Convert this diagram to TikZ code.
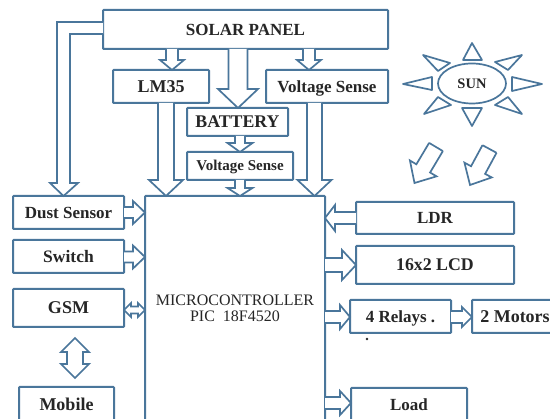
\documentclass[tikz,border=0pt]{standalone}
\usepackage{fontspec}
\setmainfont{Liberation Serif}
\usetikzlibrary{calc,shapes.geometric}
\definecolor{edgeblue}{HTML}{4A769B}
\definecolor{inkgrey}{HTML}{262626}
\tikzset{
  blk/.style={draw=edgeblue,line width=2pt,fill=white,rounded corners=0.8pt,inner sep=0pt,outer sep=0pt,text=inkgrey,font=\bfseries\fontsize{#1}{#1}\selectfont,align=center},
  arr/.style={draw=edgeblue,line width=1.7pt,fill=white,line join=miter},
  ray/.style={draw=edgeblue,line width=1.7pt,fill=white,line join=round}
}
% name, x1, y1, x2, y2, font size, text
\newcommand\boxat[7]{\node[blk=#6,minimum width=#4pt-#2pt,minimum height=#5pt-#3pt] (#1) at ({(#2+#4)/2},{(#3+#5)/2}) {\raisebox{-1pt}{\vphantom{H}\smash{#7}}};}
% from, to, shaft half, head half, head length
\newcommand\blockarrow[5]{%
  \coordinate (A) at (#1); \coordinate (B) at (#2);
  \coordinate (H) at ($(B)!#5pt!(A)$);
  \draw[arr] ($(A)!#3pt!90:(B)$) -- ($(H)!#3pt!-90:(A)$) -- ($(H)!#4pt!-90:(A)$) -- (B)
    -- ($(H)!#4pt!90:(A)$) -- ($(H)!#3pt!90:(A)$) -- ($(A)!#3pt!-90:(B)$);
}
\newcommand\dblarrow[5]{%
  \coordinate (A) at (#1); \coordinate (B) at (#2);
  \coordinate (H) at ($(B)!#5pt!(A)$); \coordinate (G) at ($(A)!#5pt!(B)$);
  \draw[arr] (A) -- ($(G)!#4pt!90:(B)$) -- ($(G)!#3pt!90:(B)$) -- ($(H)!#3pt!-90:(A)$) -- ($(H)!#4pt!-90:(A)$) -- (B)
    -- ($(H)!#4pt!90:(A)$) -- ($(H)!#3pt!90:(A)$) -- ($(G)!#3pt!-90:(B)$) -- ($(G)!#4pt!-90:(B)$) -- cycle;
}
\begin{document}
\begin{tikzpicture}[x=1pt,y=-1pt]
\useasboundingbox (0,0) rectangle (550,419);
\clip (0,0) rectangle (550,419);
\fill[white] (0,0) rectangle (550,419);
% boxes
\boxat{solar}{103}{10}{388}{49}{17}{SOLAR PANEL}
\boxat{lm}{113}{70}{209}{103}{18}{LM35}
\boxat{vst}{266}{70}{388}{103}{17}{Voltage Sense}
\boxat{bat}{187}{108}{288}{136}{17.8}{BATTERY}
\boxat{vss}{187}{152}{293}{180}{15}{Voltage Sense}
\boxat{mc}{145}{196}{325}{440}{11}{}
\boxat{dust}{13}{196}{124}{229}{17}{Dust Sensor}
\boxat{sw}{13}{240}{124}{273}{17.5}{Switch}
\boxat{gsm}{13}{289}{124}{327}{18}{GSM}
\boxat{mob}{19}{387}{114}{423}{18}{Mobile}
\boxat{ldr}{356}{202}{514}{234}{17}{LDR}
\boxat{lcd}{356}{246}{514}{284}{17.8}{16x2 LCD}
\boxat{rel}{350}{300}{451}{333}{17}{4 Relays .}
\boxat{mot}{472}{300}{562}{333}{18}{\makebox[0pt]{\hspace{-4pt}2 Motors}}
\boxat{load}{351}{388}{467}{422}{17}{Load}
\node[text=inkgrey,font=\fontsize{16}{16}\selectfont,align=center,inner sep=0pt] (mctext) at (235,308) {MICROCONTROLLER\\PIC\ \ 18F4520};
% top arrows
\blockarrow{172,0 |- solar.south}{172,0 |- lm.north}{6}{12}{10}
\blockarrow{238,0 |- solar.south}{238,0 |- bat.north}{9.5}{20}{19}
\blockarrow{309,0 |- solar.south}{309,0 |- vst.north}{6}{12}{10}
\blockarrow{166,0 |- lm.south}{166,0 |- mc.north}{8}{17}{16}
\blockarrow{240,0 |- bat.south}{240,0 |- vss.north}{5}{12.5}{9}
\blockarrow{240,0 |- vss.south}{240,0 |- mc.north}{5}{12.5}{8}
\blockarrow{314.5,0 |- vst.south}{314.5,0 |- mc.north}{7.5}{17}{16}
% solar to dust sensor
\coordinate (sa) at (solar.west |- 0,22);
\coordinate (sb) at (solar.west |- 0,34);
\coordinate (dt) at (63.5,0 |- dust.north);
\draw[arr] (sa) -- (57,22) -- (57,183) -- (50,183) -- (dt) -- (78,183) -- (70,183) -- (70,34) -- (sb);
% left arrows
\blockarrow{dust.east |- 0,212.5}{mc.west |- 0,212.5}{5.5}{11.5}{12}
\blockarrow{sw.east |- 0,257}{mc.west |- 0,257}{5.5}{11.5}{12}
\dblarrow{gsm.east |- 0,310}{mc.west |- 0,310}{3.5}{7}{7}
\dblarrow{75,338}{75,378}{8}{14}{14}
% right arrows
\blockarrow{ldr.west |- 0,218}{mc.east |- 0,218}{6}{13}{10}
\blockarrow{mc.east |- 0,265}{lcd.west |- 0,265}{7}{15}{14}
\blockarrow{mc.east |- 0,317}{rel.west |- 0,317}{6}{12}{10}
\blockarrow{rel.east |- 0,317}{mot.west |- 0,317}{6}{10}{10}
\blockarrow{mc.east |- 0,403}{load.west |- 0,403}{6}{12}{11}
% sun
\node[draw=edgeblue,line width=1.7pt,ellipse,minimum width=68pt,minimum height=40pt,inner sep=0pt,text=inkgrey,font=\bfseries\fontsize{14.5}{14.5}\selectfont] (sun) at (472,83.5) {SUN};
\draw[ray] (472,43) -- (463,60) -- (482,60) -- cycle;
\draw[ray] (403,84) -- (432,77) -- (432,90) -- cycle;
\draw[ray] (542,84) -- (512,77) -- (512,91) -- cycle;
\draw[ray] (472,126) -- (462,108) -- (482,108) -- cycle;
\draw[ray] (423,55) -- (450,63) -- (438,71) -- cycle;
\draw[ray] (522,55) -- (495,62) -- (508,70) -- cycle;
\draw[ray] (424,114) -- (438,97) -- (451,105) -- cycle;
\draw[ray] (522,114) -- (495,105) -- (508,97) -- cycle;
% sun rays
\coordinate (ra1) at (436,147); \coordinate (rb1) at (414.5,183);
\coordinate (ra2) at (489.5,149); \coordinate (rb2) at (470,185);
\blockarrow{ra1}{rb1}{8}{15.5}{17}
\draw[arr] ($(ra1)!8pt!90:(rb1)$) -- ($(ra1)!8pt!-90:(rb1)$);
\blockarrow{ra2}{rb2}{8}{15.5}{17}
\draw[arr] ($(ra2)!8pt!90:(rb2)$) -- ($(ra2)!8pt!-90:(rb2)$);
% stray dot
\fill[inkgrey] (367,339) circle (1.3pt);
\end{tikzpicture}
\end{document}
